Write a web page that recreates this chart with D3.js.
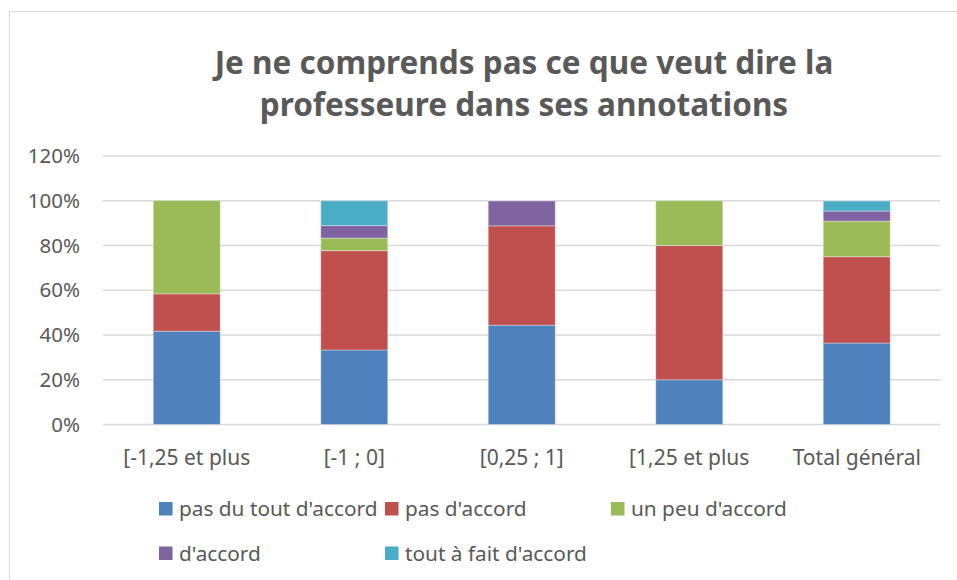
<!DOCTYPE html>
<html>
<head>
<meta charset="utf-8">
<script src="https://cdn.jsdelivr.net/npm/d3@7"></script>
<style>
  body { margin: 0; background: #fff; }
  text { font-family: "Noto Sans", sans-serif; fill: #595959; }
</style>
</head>
<body>
<div class="chart"></div>
<script>
var categories = ["[-1,25 et plus", "[-1 ; 0]", "[0,25 ; 1]", "[1,25 et plus", "Total général"];
var seriesNames = ["pas du tout d'accord", "pas d'accord", "un peu d'accord", "d'accord", "tout à fait d'accord"];
var colors = ["#4F81BD", "#C0504D", "#9BBB59", "#8064A2", "#4BACC6"];
// pourcentages par série, dans l'ordre des catégories
var pasDuTout  = [41.7, 33.3, 44.4, 20.0, 36.4];
var pasDAccord = [16.7, 44.4, 44.4, 60.0, 38.6];
var unPeu      = [41.7,  5.6,  0.0, 20.0, 15.9];
var dAccord    = [ 0.0,  5.6, 11.1,  0.0,  4.5];
var toutAFait  = [ 0.0, 11.1,  0.0,  0.0,  4.5];
var yTicks = [0, 20, 40, 60, 80, 100, 120];
var title = ["Je ne comprends pas ce que veut dire la", "professeure dans ses annotations"];

var width = 957, height = 580;
var svg = d3.select(".chart").append("svg")
    .attr("width", width)
    .attr("height", height);

// cadre du graphique
svg.append("rect")
    .attr("x", 9.5).attr("y", 11.5)
    .attr("width", 1000).attr("height", 1000)
    .attr("fill", "none")
    .attr("stroke", "#D9D9D9");

var x = d3.scaleBand().domain(categories).range([103, 940.5]).paddingInner(0.6).paddingOuter(0.3);
var y = d3.scaleLinear().domain([0, 120]).range([424.5, 156]);

svg.selectAll(".grid")
    .data(yTicks)
    .enter()
    .append("line")
    .attr("x1", 103).attr("x2", 940.5)
    .attr("y1", function (d) { return y(d); })
    .attr("y2", function (d) { return y(d); })
    .attr("stroke", "#D9D9D9")
    .attr("stroke-width", 1.3);

var rows = categories.map(function (c, i) {
    return {cat: c, s0: pasDuTout[i], s1: pasDAccord[i], s2: unPeu[i], s3: dAccord[i], s4: toutAFait[i]};
});
var stack = d3.stack().keys(["s0", "s1", "s2", "s3", "s4"]);
var layers = stack(rows);

svg.selectAll(".layer")
    .data(layers)
    .enter()
    .append("g")
    .attr("fill", function (d, i) { return colors[i]; })
    .selectAll("rect")
    .data(function (d) { return d; })
    .enter()
    .append("rect")
    .attr("x", function (d) { return x(d.data.cat); })
    .attr("width", x.bandwidth())
    .attr("y", function (d) { return y(d[1]); })
    .attr("height", function (d) { return y(d[0]) - y(d[1]); })
    .attr("stroke", "#ffffff")
    .attr("stroke-opacity", 0.35)
    .attr("stroke-width", 1);

// axe Y
svg.selectAll(".ylab")
    .data(yTicks)
    .enter()
    .append("text")
    .attr("x", 80)
    .attr("y", function (d) { return y(d); })
    .attr("dy", "0.35em")
    .attr("text-anchor", "end")
    .style("font-size", "20.5px")
    .text(function (d) { return d + "%"; });

// axe X
svg.selectAll(".xlab")
    .data(categories)
    .enter()
    .append("text")
    .attr("x", function (d) { return x(d) + x.bandwidth() / 2; })
    .attr("y", 465)
    .attr("text-anchor", "middle")
    .style("font-size", "21px")
    .text(function (d) { return d; });

// titre
svg.selectAll(".title")
    .data(title)
    .enter()
    .append("text")
    .attr("x", 524)
    .attr("y", function (d, i) { return 74 + i * 42; })
    .attr("text-anchor", "middle")
    .style("font-size", "31.5px")
    .style("font-weight", "bold")
    .text(function (d) { return d; });

// légende
var legend = svg.selectAll(".legend")
    .data(seriesNames)
    .enter()
    .append("g")
    .attr("transform", function (d, i) {
        return "translate(" + (159 + (i % 3) * 226) + "," + (502 + Math.floor(i / 3) * 44.5) + ")";
    });
legend.append("rect")
    .attr("width", 13.5).attr("height", 13.5)
    .attr("fill", function (d, i) { return colors[i]; });
legend.append("text")
    .attr("x", 20)
    .attr("y", 7)
    .attr("dy", "0.35em")
    .style("font-size", "20.8px")
    .text(function (d) { return d; });
</script>
</body>
</html>
